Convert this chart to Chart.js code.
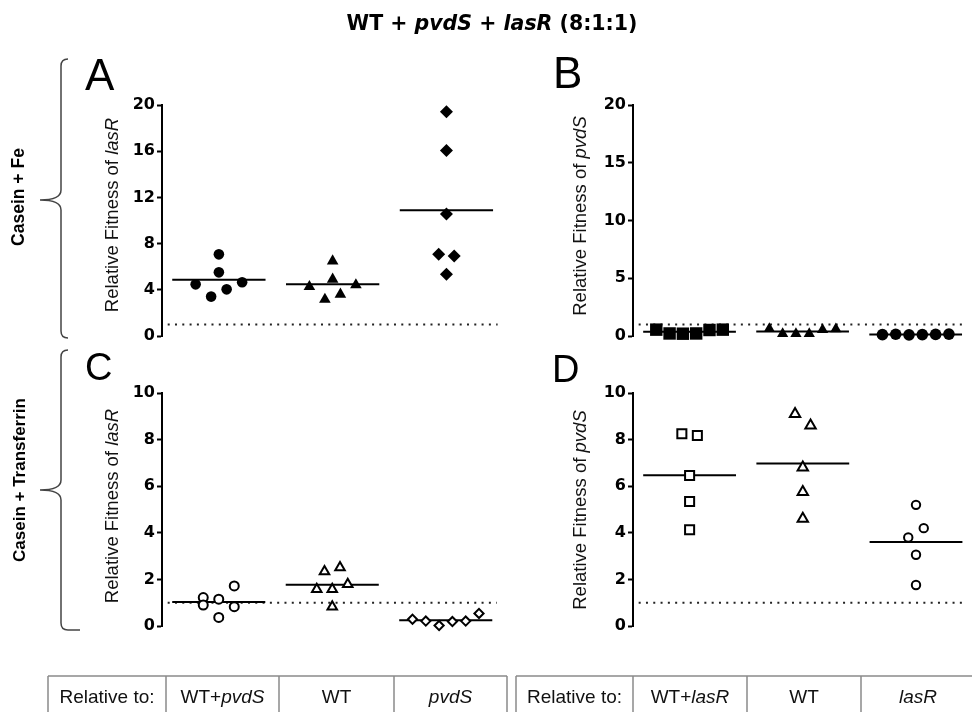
<!DOCTYPE html>
<html>
<head>
<meta charset="utf-8">
<script src="https://cdn.jsdelivr.net/npm/chart.js@4"></script>
<style>
  body { margin: 0; width: 972px; height: 712px; overflow: hidden; background: #fff; position: relative; }
  canvas { position: absolute; }
  svg { position: absolute; left: 0; top: 0; }
</style>
</head>
<body>
<canvas id="chartA" width="398" height="261" style="left:112px;top:90px"></canvas>
<canvas id="chartB" width="398" height="261" style="left:583px;top:90px"></canvas>
<canvas id="chartC" width="398" height="263" style="left:112px;top:378px"></canvas>
<canvas id="chartD" width="398" height="263" style="left:583px;top:378px"></canvas>

<svg width="972" height="712" font-family="Liberation Sans, Arial, sans-serif">
  <!-- title -->
  <text x="492" y="30" text-anchor="middle" font-family="DejaVu Sans" font-weight="bold" font-size="20.5">WT + <tspan font-style="italic">pvdS</tspan> + <tspan font-style="italic">lasR</tspan> (8:1:1)</text>

  <!-- panel letters -->
  <text x="85" y="90" font-size="44">A</text>
  <text x="553" y="88" font-size="44">B</text>
  <text x="85" y="380" font-size="38">C</text>
  <text x="552" y="382" font-size="38">D</text>

  <!-- y axis titles -->
  <text transform="translate(118,215) rotate(-90)" text-anchor="middle" font-size="18.5" fill="#111">Relative Fitness of <tspan font-style="italic">lasR</tspan></text>
  <text transform="translate(586,216) rotate(-90)" text-anchor="middle" font-size="18.5" fill="#111">Relative Fitness of <tspan font-style="italic">pvdS</tspan></text>
  <text transform="translate(118,506) rotate(-90)" text-anchor="middle" font-size="18.5" fill="#111">Relative Fitness of <tspan font-style="italic">lasR</tspan></text>
  <text transform="translate(586,510) rotate(-90)" text-anchor="middle" font-size="18.5" fill="#111">Relative Fitness of <tspan font-style="italic">pvdS</tspan></text>

  <!-- condition braces -->
  <path d="M68,59 Q61,59 61,66 L61,190 Q61,200 40,200 Q61,200 61,210 L61,331 Q61,338 68,338" fill="none" stroke="#444" stroke-width="1.5"/>
  <path d="M68,350 Q61,350 61,357 L61,480 Q61,490 40,490 Q61,490 61,500 L61,623 Q61,630 68,630 L80,630" fill="none" stroke="#444" stroke-width="1.5"/>
  <text transform="translate(24,197) rotate(-90)" text-anchor="middle" font-weight="bold" font-size="17.5">Casein + Fe</text>
  <text transform="translate(25,480) rotate(-90)" text-anchor="middle" font-weight="bold" font-size="17">Casein + Transferrin</text>

  <!-- reference tables -->
  <g stroke="#8a8a8a" stroke-width="1.5">
    <line x1="48" y1="676" x2="507" y2="676"/>
    <line x1="48" y1="676" x2="48" y2="712"/>
    <line x1="166" y1="676" x2="166" y2="712"/>
    <line x1="279" y1="676" x2="279" y2="712"/>
    <line x1="394" y1="676" x2="394" y2="712"/>
    <line x1="507" y1="676" x2="507" y2="712"/>
    <line x1="516" y1="676" x2="972" y2="676"/>
    <line x1="516" y1="676" x2="516" y2="712"/>
    <line x1="633" y1="676" x2="633" y2="712"/>
    <line x1="747" y1="676" x2="747" y2="712"/>
    <line x1="861" y1="676" x2="861" y2="712"/>
  </g>
  <g font-size="19" text-anchor="middle" fill="#111">
    <text x="107" y="703">Relative to:</text>
    <text x="222.5" y="703">WT+<tspan font-style="italic">pvdS</tspan></text>
    <text x="336.5" y="703">WT</text>
    <text x="450.5" y="703" font-style="italic">pvdS</text>
    <text x="574.5" y="703">Relative to:</text>
    <text x="690" y="703">WT+<tspan font-style="italic">lasR</tspan></text>
    <text x="804" y="703">WT</text>
    <text x="918" y="703" font-style="italic">lasR</text>
  </g>
</svg>

<script>
// Panel A - casein + Fe, fitness of lasR relative to WT+pvdS, WT, pvdS
const aWtPvdS = [4.47, 3.41, 7.07, 5.51, 4.04, 4.66];
const aWt = [4.27, 3.17, 6.49, 4.91, 3.61, 4.42];
const aPvdS = [7.07, 19.42, 16.05, 10.56, 5.34, 6.93];
// Panel B - casein + Fe, fitness of pvdS relative to WT+lasR, WT, lasR
const bWtLasR = [0.55, 0.22, 0.2, 0.22, 0.52, 0.55];
const bWt = [0.62, 0.2, 0.2, 0.2, 0.55, 0.6];
const bLasR = [0.12, 0.15, 0.1, 0.12, 0.14, 0.16];
// Panel C - casein + transferrin, fitness of lasR
const cWtPvdS = [1.22, 0.9, 1.15, 0.37, 1.72, 0.83];
const cWt = [1.58, 2.34, 1.58, 0.83, 2.51, 1.79];
const cPvdS = [0.29, 0.21, 0.02, 0.19, 0.21, 0.54];
// Panel D - casein + transferrin, fitness of pvdS
const dWtLasR = [8.25, 6.46, 5.34, 4.13, 8.18];
const dWt = [9.1, 6.8, 5.75, 4.6, 8.6];
const dLasR = [5.2, 3.8, 3.06, 1.76, 4.2];

const ticksA = [0, 4, 8, 12, 16, 20];
const ticksB = [0, 5, 10, 15, 20];
const ticksC = [0, 2, 4, 6, 8, 10];
const ticksD = [0, 2, 4, 6, 8, 10];
const neutral = 1; // fitness of 1 = no advantage

const mean = arr => arr.reduce((s, v) => s + v, 0) / arr.length;

// points closer than this (px) share a row and are spread sideways
const ROW_GAP = 15.5;

function swarm(values, cat, pxY, pxX) {
  const order = values.map((v, i) => i).sort((a, b) => values[a] - values[b]);
  const rows = [];
  let cur = null;
  order.forEach(i => {
    if (cur && (values[i] - values[cur[0]]) * pxY <= ROW_GAP) cur.push(i);
    else { cur = [i]; rows.push(cur); }
  });
  const xs = [];
  rows.forEach(r => {
    r.sort((a, b) => a - b);
    const n = r.length;
    const sp = n >= 5 ? 13.3 : 15.5;
    r.forEach((i, k) => { xs[i] = cat + (k - (n - 1) / 2) * sp / pxX; });
  });
  return values.map((v, i) => ({ x: xs[i], y: v }));
}

function makePanel(id, groups, ticks, styles) {
  const datasets = [];
  groups.forEach((vals, i) => {
    const st = styles[i];
    datasets.push({
      data: vals.map(v => ({ x: i, y: v })),
      pointStyle: st.shape,
      pointRadius: st.r,
      backgroundColor: st.open ? '#fff' : '#000',
      borderColor: '#000',
      borderWidth: st.open ? 2 : 0,
      clip: false,
      order: 0
    });
  });
  groups.forEach((vals, i) => {
    const m = mean(vals);
    datasets.push({
      data: [{ x: i - 0.41, y: m }, { x: i + 0.41, y: m }],
      showLine: true, pointRadius: 0, borderColor: '#000', borderWidth: 2,
      clip: false, order: 1
    });
  });
  datasets.push({
    data: [{ x: -0.45, y: neutral }, { x: 2.45, y: neutral }],
    showLine: true, pointRadius: 0, borderColor: '#222', borderWidth: 2,
    borderDash: [2, 5.3], clip: false, order: 2
  });

  const chart = new Chart(document.getElementById(id), {
    type: 'scatter',
    data: { datasets },
    options: {
      responsive: false,
      animation: false,
      events: [],
      layout: { padding: { left: 0, right: 0, top: 15, bottom: 15 } },
      plugins: { legend: { display: false }, tooltip: { enabled: false } },
      scales: {
        x: { type: 'linear', display: false, min: -0.5, max: 2.5 },
        y: {
          type: 'linear',
          min: ticks[0],
          max: ticks[ticks.length - 1],
          afterBuildTicks: s => { s.ticks = ticks.map(v => ({ value: v })); },
          afterFit: s => { s.width = 50; },
          grid: { display: true, drawOnChartArea: false, drawTicks: true, tickLength: 5, tickWidth: 2, color: '#000', tickColor: '#000' },
          border: { display: true, width: 2, color: '#000' },
          ticks: { font: { family: 'DejaVu Sans', weight: 'bold', size: 16 }, color: '#000', padding: 2 }
        }
      }
    }
  });

  // second pass: spread overlapping points using the real pixel scales
  const ys = chart.scales.y, xs = chart.scales.x;
  const pxY = Math.abs(ys.getPixelForValue(0) - ys.getPixelForValue(1));
  const pxX = xs.getPixelForValue(1) - xs.getPixelForValue(0);
  groups.forEach((vals, i) => { chart.data.datasets[i].data = swarm(vals, i, pxY, pxX); });
  chart.update('none');
  return chart;
}

makePanel('chartA', [aWtPvdS, aWt, aPvdS], ticksA, [
  { shape: 'circle', r: 5.3 }, { shape: 'triangle', r: 6.7 }, { shape: 'rectRot', r: 6.5 }
]);
makePanel('chartB', [bWtLasR, bWt, bLasR], ticksB, [
  { shape: 'rect', r: 8.8 }, { shape: 'triangle', r: 6.5 }, { shape: 'circle', r: 5.8 }
]);
makePanel('chartC', [cWtPvdS, cWt, cPvdS], ticksC, [
  { shape: 'circle', r: 4.5, open: true }, { shape: 'triangle', r: 5.5, open: true }, { shape: 'rectRot', r: 4.6, open: true }
]);
makePanel('chartD', [dWtLasR, dWt, dLasR], ticksD, [
  { shape: 'rect', r: 6.4, open: true }, { shape: 'triangle', r: 6, open: true }, { shape: 'circle', r: 4.2, open: true }
]);
</script>
</body>
</html>
